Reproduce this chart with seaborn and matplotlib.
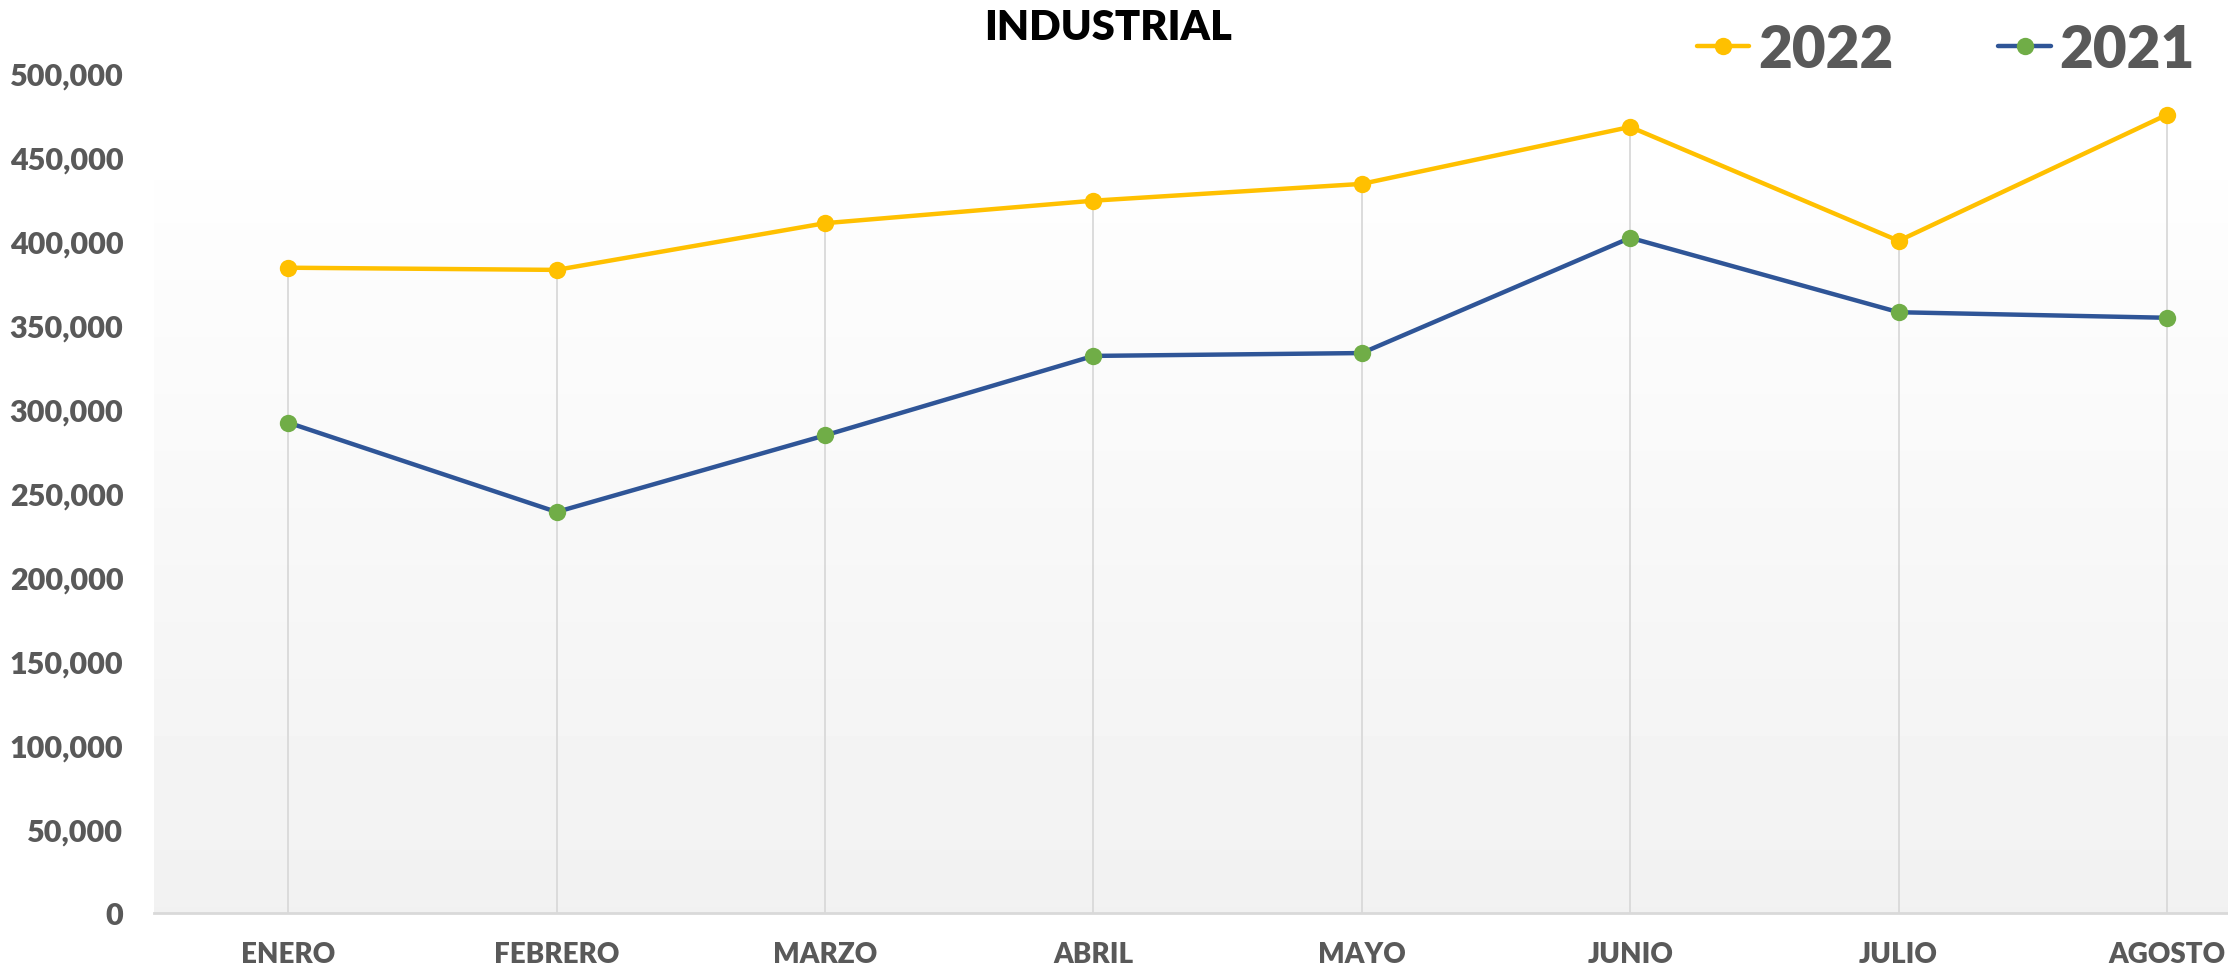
import numpy as np
import pandas as pd
import matplotlib
matplotlib.use("Agg")
import matplotlib.pyplot as plt
import seaborn as sns
from matplotlib.ticker import FuncFormatter

# values
meses = ["ENERO", "FEBRERO", "MARZO", "ABRIL", "MAYO", "JUNIO", "JULIO", "AGOSTO"]
valores_2022 = [384100, 382800, 410600, 424000, 434000, 467900, 400100, 475200]
valores_2021 = [291900, 238700, 284300, 331600, 333300, 401900, 357600, 354300]
y_ticks = [0, 50000, 100000, 150000, 200000, 250000, 300000, 350000, 400000, 450000, 500000]

sns.set_theme(style="white")
plt.rcParams["font.family"] = ["Lato", "DejaVu Sans"]

df = pd.DataFrame({
    "mes": meses * 2,
    "pos": list(range(len(meses))) * 2,
    "valor": valores_2022 + valores_2021,
    "anio": ["2022"] * len(meses) + ["2021"] * len(meses),
})

fig = plt.figure(figsize=(22.28, 9.70), dpi=100)
ax = fig.add_axes([154 / 2228, 1 - 914 / 970, 1 - 154 / 2228, (914 - 74) / 970])

xlim = (-0.5, 7.227)
ax.set_xlim(*xlim)
ax.set_ylim(0, 500000)

# soft background gradient of the plot area
grad = np.linspace(0.995, 0.945, 200).reshape(-1, 1)
ax.imshow(grad, cmap="gray", vmin=0, vmax=1, aspect="auto",
          extent=[xlim[0], xlim[1], 0, 436000], zorder=0, interpolation="bicubic")

# drop lines from the highest point of each month down to the axis
tope = df.groupby("pos")["valor"].max()
ax.vlines(tope.index, 0, tope.values, color="#d9d9d9", lw=1.3, zorder=1)

d22 = df[df["anio"] == "2022"]
d21 = df[df["anio"] == "2021"]
sns.lineplot(data=d22, x="pos", y="valor", ax=ax, color="#FFC000", lw=3.2,
             marker="o", markersize=12.5, markerfacecolor="#FFC000",
             markeredgecolor="#FFC000", markeredgewidth=0, label="2022", zorder=3)
sns.lineplot(data=d21, x="pos", y="valor", ax=ax, color="#2F5597", lw=3.2,
             marker="o", markersize=12.5, markerfacecolor="#70AD47",
             markeredgecolor="#70AD47", markeredgewidth=0, label="2021", zorder=3)

for spine in ["top", "right", "left"]:
    ax.spines[spine].set_visible(False)
ax.spines["bottom"].set_color("#d9d9d9")
ax.spines["bottom"].set_linewidth(2)
ax.spines["bottom"].set_zorder(2)

ax.set_xticks(range(len(meses)))
ax.set_xticklabels(meses)
ax.set_yticks(y_ticks)
ax.yaxis.set_major_formatter(FuncFormatter(lambda v, p: f"{int(v):,}"))
ax.tick_params(axis="x", length=0, pad=20, labelsize=20, labelcolor="#595959")
ax.tick_params(axis="y", length=0, pad=22, labelsize=22, labelcolor="#595959")
for lab in ax.get_xticklabels() + ax.get_yticklabels():
    lab.set_fontweight("heavy")
ax.set_xlabel("")
ax.set_ylabel("")
ax.grid(False)

leg = ax.legend(loc="center right", bbox_to_anchor=(2195 / 2228, 1 - 50 / 970),
                bbox_transform=fig.transFigure, ncol=2, frameon=False,
                fontsize=42, handlelength=0.9, handletextpad=0.15,
                columnspacing=1.8, borderpad=0, borderaxespad=0)
for t in leg.get_texts():
    t.set_color("#595959")
    t.set_fontweight("heavy")

fig.text(1108 / 2228, 1 - 28 / 970, "INDUSTRIAL", ha="center", va="center",
         fontsize=30, fontweight="heavy", color="black")

fig.savefig("out.png", dpi=100)
